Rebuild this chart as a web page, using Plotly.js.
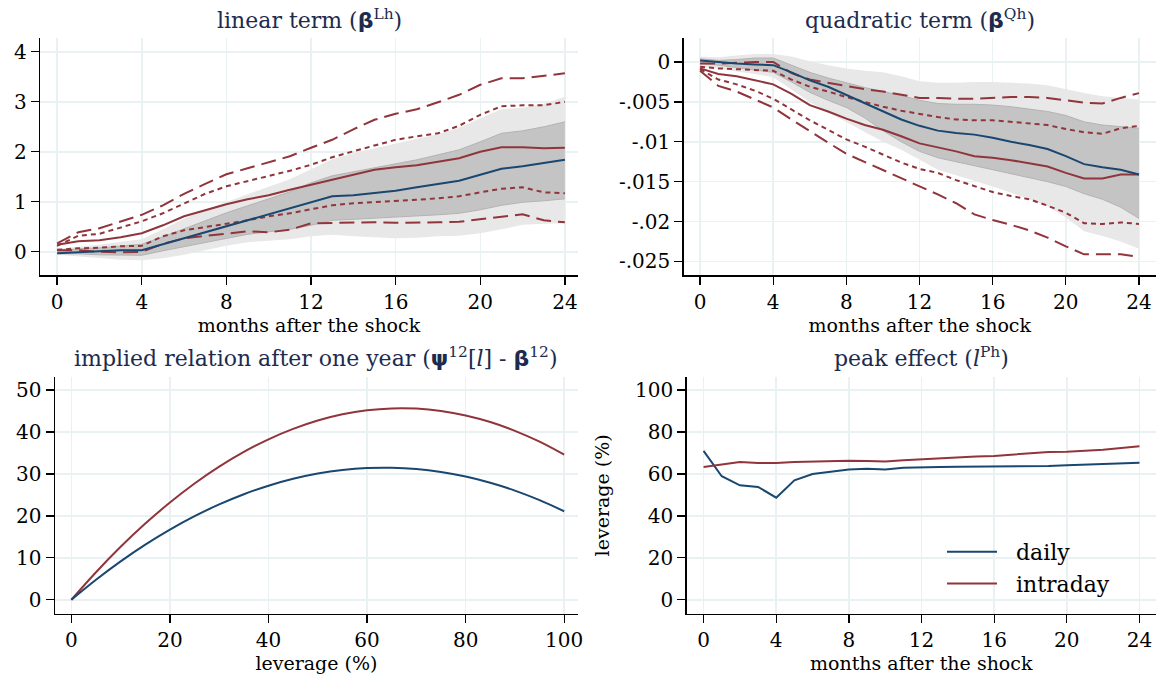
<!DOCTYPE html>
<html><head><meta charset="utf-8">
<script src="https://cdn.plot.ly/plotly-3.0.1.min.js"></script>
<style>html,body{margin:0;padding:0;background:#fff}#chart{width:1156px;height:681px}</style>
</head><body><div id="chart"></div>
<script>
const months = [0,1,2,3,4,5,6,7,8,9,10,11,12,13,14,15,16,17,18,19,20,21,22,23,24];
const monthTicks = [0,4,8,12,16,20,24];

// Panel 1: linear term
const linDaily     = [-0.03,-0.01,0.02,0.03,0.03,0.15,0.27,0.39,0.52,0.64,0.75,0.87,1.00,1.11,1.13,1.17,1.22,1.29,1.35,1.42,1.54,1.66,1.71,1.77,1.84];
const linDailyLoIn = [-0.04,-0.04,-0.06,-0.07,-0.07,0.02,0.10,0.18,0.27,0.35,0.40,0.45,0.53,0.63,0.65,0.67,0.69,0.71,0.74,0.77,0.84,0.93,0.99,1.02,1.06];
const linDailyHiIn = [0.02,0.06,0.08,0.12,0.15,0.30,0.46,0.62,0.78,0.92,1.06,1.20,1.38,1.52,1.60,1.68,1.76,1.84,1.94,2.04,2.20,2.37,2.42,2.50,2.60];
const linDailyLoOut= [-0.06,-0.09,-0.13,-0.16,-0.17,-0.13,-0.06,0.03,0.12,0.19,0.22,0.25,0.31,0.34,0.31,0.29,0.27,0.28,0.31,0.32,0.37,0.45,0.54,0.56,0.57];
const linDailyHiOut= [0.06,0.10,0.14,0.20,0.25,0.45,0.66,0.84,1.00,1.15,1.30,1.45,1.65,1.85,1.97,2.07,2.17,2.26,2.35,2.48,2.67,2.85,2.88,2.96,3.10];
const linIntra     = [0.14,0.21,0.23,0.29,0.37,0.53,0.71,0.83,0.95,1.05,1.13,1.24,1.34,1.44,1.54,1.64,1.69,1.73,1.80,1.87,2.00,2.09,2.09,2.07,2.08];
const linIntraHi95 = [0.17,0.39,0.47,0.60,0.74,0.93,1.16,1.36,1.55,1.67,1.79,1.91,2.08,2.24,2.45,2.64,2.76,2.85,2.99,3.14,3.34,3.47,3.47,3.52,3.57];
const linIntraHi90 = [0.12,0.32,0.36,0.49,0.61,0.77,0.97,1.16,1.31,1.41,1.51,1.62,1.74,1.89,2.01,2.12,2.24,2.31,2.37,2.52,2.74,2.91,2.93,2.93,3.00];
const linIntraLo90 = [0.04,0.07,0.08,0.11,0.12,0.31,0.43,0.49,0.56,0.63,0.71,0.77,0.85,0.93,0.97,0.99,1.02,1.04,1.07,1.11,1.19,1.26,1.29,1.19,1.17];
const linIntraLo95 = [0.03,0.03,0.00,-0.01,0.00,0.16,0.27,0.32,0.37,0.41,0.39,0.44,0.57,0.58,0.59,0.59,0.58,0.58,0.59,0.60,0.65,0.71,0.75,0.63,0.59];
const linYTicks = [0,1,2,3,4];

// Panel 2: quadratic term
const quadDaily     = [0.0002,0,-0.0002,-0.0003,-0.0004,-0.0013,-0.0023,-0.0031,-0.0041,-0.0052,-0.0062,-0.0072,-0.0080,-0.0086,-0.0089,-0.0091,-0.0095,-0.0100,-0.0104,-0.0109,-0.0118,-0.0128,-0.0132,-0.0135,-0.0141];
const quadDailyLoIn = [-0.0002,-0.0004,-0.0007,-0.0010,-0.0013,-0.0025,-0.0038,-0.0048,-0.0057,-0.0070,-0.0086,-0.0100,-0.0112,-0.0120,-0.0125,-0.0130,-0.0135,-0.0140,-0.0145,-0.0150,-0.0156,-0.0165,-0.0172,-0.0182,-0.0196];
const quadDailyHiIn = [0.0004,0.0002,0.0003,0.0005,0.0005,-0.0004,-0.0013,-0.0020,-0.0026,-0.0032,-0.0037,-0.0042,-0.0048,-0.0052,-0.0053,-0.0053,-0.0054,-0.0056,-0.0059,-0.0062,-0.0067,-0.0075,-0.0079,-0.0081,-0.0083];
const quadDailyLoOut= [-0.0006,-0.0008,-0.0012,-0.0015,-0.0019,-0.0035,-0.0050,-0.0063,-0.0075,-0.0088,-0.0100,-0.0110,-0.0122,-0.0135,-0.0142,-0.0149,-0.0156,-0.0164,-0.0172,-0.0181,-0.0195,-0.0212,-0.0218,-0.0225,-0.0234];
const quadDailyHiOut= [0.0007,0.0006,0.0008,0.0010,0.0010,0.0007,0.0001,-0.0004,-0.0008,-0.0011,-0.0013,-0.0018,-0.0024,-0.0026,-0.0026,-0.0025,-0.0025,-0.0026,-0.0027,-0.0029,-0.0034,-0.0039,-0.0043,-0.0045,-0.0047];
const quadIntra     = [-0.0008,-0.0015,-0.0018,-0.0023,-0.0028,-0.0040,-0.0054,-0.0062,-0.0071,-0.0079,-0.0085,-0.0093,-0.0102,-0.0107,-0.0112,-0.0118,-0.0120,-0.0123,-0.0127,-0.0131,-0.0139,-0.0146,-0.0146,-0.0141,-0.0141];
const quadIntraHi95 = [-0.0002,-0.0002,-0.0001,0,0,-0.0014,-0.0022,-0.0026,-0.0030,-0.0034,-0.0037,-0.0041,-0.0045,-0.0045,-0.0046,-0.0046,-0.0045,-0.0044,-0.0044,-0.0045,-0.0048,-0.0051,-0.0052,-0.0045,-0.0039];
const quadIntraHi90 = [-0.0006,-0.0008,-0.0009,-0.0010,-0.0011,-0.0022,-0.0031,-0.0037,-0.0044,-0.0050,-0.0056,-0.0061,-0.0065,-0.0069,-0.0072,-0.0073,-0.0073,-0.0075,-0.0077,-0.0079,-0.0084,-0.0088,-0.0090,-0.0083,-0.0080];
const quadIntraLo90 = [-0.0009,-0.0022,-0.0028,-0.0036,-0.0046,-0.0060,-0.0073,-0.0085,-0.0097,-0.0106,-0.0116,-0.0126,-0.0134,-0.0139,-0.0148,-0.0156,-0.0163,-0.0168,-0.0172,-0.0180,-0.0189,-0.0202,-0.0203,-0.0201,-0.0203];
const quadIntraLo95 = [-0.0011,-0.0030,-0.0037,-0.0047,-0.0057,-0.0072,-0.0087,-0.0101,-0.0115,-0.0125,-0.0135,-0.0145,-0.0156,-0.0166,-0.0177,-0.0191,-0.0198,-0.0204,-0.0211,-0.0220,-0.0231,-0.0241,-0.0241,-0.0241,-0.0244];
const quadYTicks = [0,-0.005,-0.01,-0.015,-0.02,-0.025];
const quadYLabels = ['0','-.005','-.01','-.015','-.02','-.025'];

// Panel 3: implied relation after one year
const leverage = [0,5,10,15,20,25,30,35,40,45,50,55,60,65,70,75,80,85,90,95,100];
const implDaily = [0,4.77,9.14,13.13,16.72,19.93,22.74,25.17,27.20,28.84,30.09,30.95,31.42,31.49,31.19,30.48,29.38,27.90,26.03,23.76,21.10];
const implIntra = [0,6.56,12.62,18.16,23.20,27.73,31.75,35.26,38.26,40.75,42.74,44.22,45.19,45.64,45.59,45.03,43.96,42.39,40.29,37.70,34.60];
const levTicks = [0,20,40,60,80,100];
const implYTicks = [0,10,20,30,40,50];

// Panel 4: peak effect
const peakDaily = [71.0,58.9,54.6,53.8,48.7,57.0,60.0,61.0,62.1,62.5,62.1,63.0,63.3,63.3,63.5,63.5,63.5,63.7,63.8,63.8,64.1,64.4,64.8,65.1,65.4];
const peakIntra = [63.3,64.6,65.7,65.2,65.2,65.7,66.0,66.2,66.3,66.2,66.0,66.5,67.0,67.5,67.9,68.3,68.6,69.2,69.7,70.5,70.6,71.0,71.6,72.4,73.2];
const peakYTicks = [0,20,40,60,80,100];
const seriesNames = ['daily','intraday'];

const FONT = "'DejaVu Serif', serif";
const BLUE = '#1a476f', RED = '#90353b', NAVY = '#1c2b4e';
const LIGHT = '#e8e8e8', DARK = '#c4c4c4', DARKEDGE = '#b3b3b3';

function band(x, lo, hi, color, edge, xa, ya) {
  return [
    {x:x, y:lo, xaxis:xa, yaxis:ya, type:'scatter', mode:'lines', line:{width: edge?1:0, color: edge||color}, showlegend:false, hoverinfo:'skip'},
    {x:x, y:hi, xaxis:xa, yaxis:ya, type:'scatter', mode:'lines', fill:'tonexty', fillcolor:color, line:{width: edge?1:0, color: edge||color}, showlegend:false, hoverinfo:'skip'}
  ];
}
function ln(x, y, color, dash, xa, ya, extra) {
  return Object.assign({x:x, y:y, xaxis:xa, yaxis:ya, type:'scatter', mode:'lines', line:{color:color, width:2, dash:dash||'solid'}, showlegend:false}, extra||{});
}
const LONG = '15px,7px', SHORT = '5px,4px';
const NB = '\u00a0\u00a0';

const data = [].concat(
  band(months, linDailyLoOut, linDailyHiOut, LIGHT, null, 'x', 'y'),
  band(months, linDailyLoIn, linDailyHiIn, DARK, DARKEDGE, 'x', 'y'),
  [ln(months, linIntraHi95, RED, LONG, 'x', 'y'), ln(months, linIntraLo95, RED, LONG, 'x', 'y'),
   ln(months, linIntraHi90, RED, SHORT, 'x', 'y'), ln(months, linIntraLo90, RED, SHORT, 'x', 'y'),
   ln(months, linIntra, RED, null, 'x', 'y'), ln(months, linDaily, BLUE, null, 'x', 'y')],
  band(months, quadDailyLoOut, quadDailyHiOut, LIGHT, null, 'x2', 'y2'),
  band(months, quadDailyLoIn, quadDailyHiIn, DARK, DARKEDGE, 'x2', 'y2'),
  [ln(months, quadIntraHi95, RED, LONG, 'x2', 'y2'), ln(months, quadIntraLo95, RED, LONG, 'x2', 'y2'),
   ln(months, quadIntraHi90, RED, SHORT, 'x2', 'y2'), ln(months, quadIntraLo90, RED, SHORT, 'x2', 'y2'),
   ln(months, quadIntra, RED, null, 'x2', 'y2'), ln(months, quadDaily, BLUE, null, 'x2', 'y2')],
  [ln(leverage, implIntra, RED, null, 'x3', 'y3', {line:{color:RED,width:2,shape:'spline'}}),
   ln(leverage, implDaily, BLUE, null, 'x3', 'y3', {line:{color:BLUE,width:2,shape:'spline'}})],
  [ln(months, peakDaily, BLUE, null, 'x4', 'y4', {name:NB+seriesNames[0], showlegend:true}),
   ln(months, peakIntra, RED, null, 'x4', 'y4', {name:NB+seriesNames[1], showlegend:true})]
);

const W = 1156, H = 681;
const px = v => v / W, py = v => 1 - v / H;

function ax(extra) {
  return Object.assign({
    showline:true, linecolor:'#000', linewidth:1.3, mirror:false,
    ticks:'outside', ticklen:8, tickwidth:1.3, tickcolor:'#000',
    showgrid:true, gridcolor:'#e9f1f3', gridwidth:1.5, zeroline:false,
    tickfont:{family:FONT, size:20, color:'#000'}, fixedrange:true
  }, extra);
}
const xTitle = t => ({text:t, font:{family:FONT, size:19, color:'#000'}, standoff:4});

const layout = {
  width:W, height:H, margin:{l:0,r:0,t:0,b:0}, paper_bgcolor:'#fff', plot_bgcolor:'#fff',
  showlegend:true,
  legend:{x:px(942), y:py(531), xanchor:'left', yanchor:'top', traceorder:'normal', font:{family:FONT, size:22, color:'#000'}, bgcolor:'rgba(0,0,0,0)', itemwidth:50},
  xaxis: ax({domain:[px(40), px(578)], range:[-0.81, 24.62], tickvals:monthTicks, anchor:'y', title:xTitle('months after the shock')}),
  yaxis: ax({domain:[py(275.3), py(38.3)], range:[-0.47, 4.27], tickvals:linYTicks, anchor:'x'}),
  xaxis2: ax({domain:[px(683.6), 1], range:[-0.9, 24.93], tickvals:monthTicks, anchor:'y2', title:xTitle('months after the shock')}),
  yaxis2: ax({domain:[py(275.3), py(38.3)], range:[-0.02673, 0.00297], tickvals:quadYTicks, ticktext:quadYLabels, anchor:'x2'}),
  xaxis3: ax({domain:[px(54.8), px(578)], range:[-3.36, 102.8], tickvals:levTicks, anchor:'y3', title:xTitle('leverage (%)')}),
  yaxis3: ax({domain:[py(614), py(376.7)], range:[-3.4, 53.2], tickvals:implYTicks, anchor:'x3'}),
  xaxis4: ax({domain:[px(686.5), 1], range:[-0.94, 24.91], tickvals:monthTicks, anchor:'y4', title:xTitle('months after the shock')}),
  yaxis4: ax({domain:[py(614), py(376.7)], range:[-6.8, 106.4], tickvals:peakYTicks, anchor:'x4', title:{text:'leverage (%)', font:{family:FONT, size:19, color:'#000'}, standoff:20}}),
  annotations: [
    {text:"linear term (<span style=\"font-family:'DejaVu Sans';font-weight:bold\">β</span><sup>Lh</sup>)", x:px(309), y:py(19)},
    {text:"quadratic term (<span style=\"font-family:'DejaVu Sans';font-weight:bold\">β</span><sup>Qh</sup>)", x:px(920), y:py(19)},
    {text:"implied relation after one year (<span style=\"font-family:'DejaVu Sans';font-weight:bold\">ψ</span><sup>12</sup>[<i>l</i>] - <span style=\"font-family:'DejaVu Sans';font-weight:bold\">β</span><sup>12</sup>)", x:px(316), y:py(357)},
    {text:"peak effect (<i>l</i><sup>Ph</sup>)", x:px(921), y:py(357)}
  ].map(a => Object.assign({xref:'paper', yref:'paper', xanchor:'center', yanchor:'middle', showarrow:false, font:{family:FONT, size:22, color:NAVY}}, a))
};

Plotly.newPlot('chart', data, layout, {displayModeBar:false, staticPlot:true});
</script>
</body></html>
